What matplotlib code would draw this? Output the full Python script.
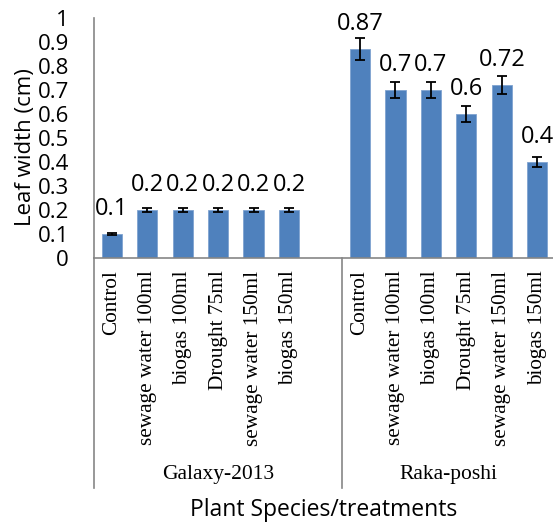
import matplotlib
matplotlib.use('Agg')
from matplotlib import pyplot as plt
import numpy as np

groups = ['Galaxy-2013', 'Raka-poshi']
treatments = ['Control', 'sewage water 100ml', 'biogas 100ml', 'Drought 75ml',
              'sewage water 150ml', 'biogas 150ml']
galaxy_vals = [0.1, 0.2, 0.2, 0.2, 0.2, 0.2]
galaxy_err = [0.005, 0.01, 0.01, 0.01, 0.01, 0.01]
raka_vals = [0.87, 0.70, 0.70, 0.60, 0.72, 0.40]
raka_err = [0.045, 0.035, 0.035, 0.033, 0.038, 0.02]
yticks = [0, 0.1, 0.2, 0.3, 0.4, 0.5, 0.6, 0.7, 0.8, 0.9, 1]

W, H = 553, 525
fig = plt.figure(figsize=(W / 100, H / 100), dpi=100)
# plot area in pixels: x 94..555, y 18..258
ax = fig.add_axes([94 / W, 1 - 258 / H, 461 / W, 240 / H])

bar_color = '#4F81BD'
sans = 'Open Sans'
serif = 'Liberation Serif'

n = len(treatments)
pos_g = np.arange(n)
pos_r = np.arange(n) + n + 1  # one empty slot in between groups

for pos, vals, err in [(pos_g, galaxy_vals, galaxy_err), (pos_r, raka_vals, raka_err)]:
    ax.bar(pos, vals, width=0.57, color=bar_color, edgecolor='#7FA3D0', linewidth=0.6,
           yerr=err, error_kw=dict(ecolor='black', elinewidth=1.3, capsize=3.8, capthick=1.3))
    for p, v in zip(pos, vals):
        ax.annotate(f'{v:g}', (p, v), xytext=(0, 13.5), textcoords='offset points',
                    ha='center', va='baseline', fontsize=17, family=sans)

ax.set_xlim(-0.5, 2 * n + 0.5)
ax.set_ylim(0, 1)
ax.set_yticks(yticks)
ax.set_yticklabels([f'{t:g}' for t in yticks], fontsize=16, family=sans)
ax.tick_params(axis='y', length=0, pad=18)

ax.set_xticks(list(pos_g) + list(pos_r))
ax.set_xticklabels(treatments + treatments, rotation=90, fontsize=15.3, family=serif,
                   ha='center', va='top', rotation_mode='default')
ax.tick_params(axis='x', length=0, pad=9)

for s in ['top', 'right']:
    ax.spines[s].set_visible(False)
for s in ['left', 'bottom']:
    ax.spines[s].set_color('#868686')
    ax.spines[s].set_linewidth(1.2)

# category frame lines below the axis
tr = ax.get_xaxis_transform()
for xline in [-0.5, n + 0.5, 2 * n + 0.5]:
    ax.plot([xline, xline], [0, -230 / 240], transform=tr, color='#868686',
            lw=1.2, clip_on=False)

ax.text(n / 2, -217 / 240, groups[0], transform=tr, ha='center',
        va='center', fontsize=15.5, family=serif)
ax.text((pos_r[0] + pos_r[-1]) / 2, -217 / 240, groups[1], transform=tr, ha='center',
        va='center', fontsize=15.5, family=serif)

fig.text(324 / W, 1 - 510 / H, 'Plant Species/treatments', ha='center', va='center',
         fontsize=16.5, family=sans)
fig.text(26 / W, 1 - 147 / H, 'Leaf width (cm)', ha='center', va='center',
         rotation=90, fontsize=16, family=sans)

fig.savefig('out.png', dpi=100)
